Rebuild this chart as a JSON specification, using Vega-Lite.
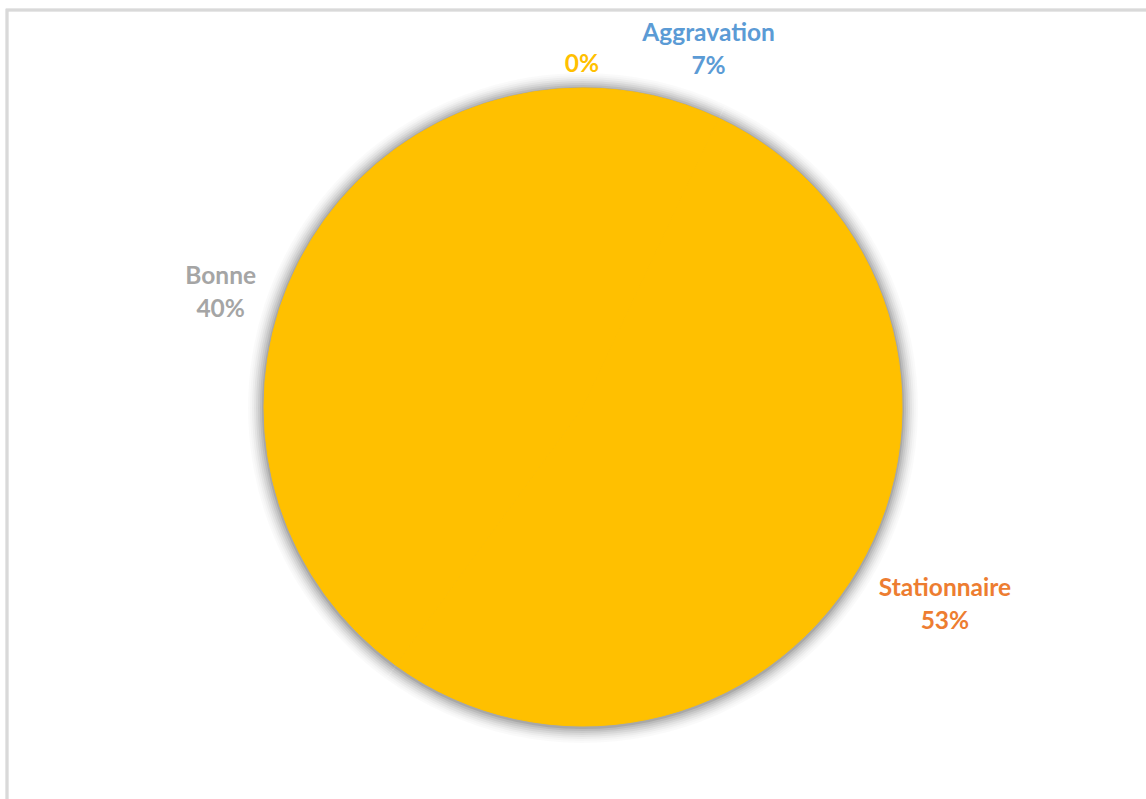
{
  "$schema": "https://vega.github.io/schema/vega-lite/v6.json",
  "width": 1139,
  "height": 789,
  "autosize": "none",
  "padding": {"left": 7, "top": 10, "right": 0, "bottom": 0},
  "background": "white",
  "config": {"view": {"stroke": null}},
  "data": {
    "values": [
      {"cat": "Aggravation", "value": 7, "ordre": 1, "label": "Aggravation\n7%"},
      {"cat": "Stationnaire", "value": 53, "ordre": 2, "label": "Stationnaire\n53%"},
      {"cat": "Bonne", "value": 40, "ordre": 3, "label": "Bonne\n40%"},
      {"cat": "", "value": 0, "ordre": 4, "label": "0%"}
    ]
  },
  "encoding": {
    "theta": {"field": "value", "type": "quantitative", "stack": true},
    "order": {"field": "ordre", "type": "quantitative"}
  },
  "layer": [
    {
      "mark": {"type": "rect", "fill": null, "stroke": "#D9D9D9", "strokeWidth": 2.5},
      "encoding": {
        "theta": null,
        "order": null,
        "x": {"value": 0},
        "y": {"value": 0},
        "x2": {"value": {"expr": "width + 20"}},
        "y2": {"value": {"expr": "height + 20"}}
      }
    },
    {"mark": {"type": "arc", "radius": 335, "color": "#000000", "opacity": 0.02, "strokeWidth": 0, "x": {"expr": "width/2 + 6.5"}, "y": {"expr": "height/2 + 3.5"}}},
    {"mark": {"type": "arc", "radius": 333, "color": "#000000", "opacity": 0.02, "strokeWidth": 0, "x": {"expr": "width/2 + 6.5"}, "y": {"expr": "height/2 + 3.5"}}},
    {"mark": {"type": "arc", "radius": 331, "color": "#000000", "opacity": 0.03, "strokeWidth": 0, "x": {"expr": "width/2 + 6.5"}, "y": {"expr": "height/2 + 3.5"}}},
    {"mark": {"type": "arc", "radius": 329, "color": "#000000", "opacity": 0.04, "strokeWidth": 0, "x": {"expr": "width/2 + 6.5"}, "y": {"expr": "height/2 + 3.5"}}},
    {"mark": {"type": "arc", "radius": 327, "color": "#000000", "opacity": 0.05, "strokeWidth": 0, "x": {"expr": "width/2 + 6.5"}, "y": {"expr": "height/2 + 3.5"}}},
    {"mark": {"type": "arc", "radius": 325, "color": "#000000", "opacity": 0.06, "strokeWidth": 0, "x": {"expr": "width/2 + 6.5"}, "y": {"expr": "height/2 + 3.5"}}},
    {"mark": {"type": "arc", "radius": 323, "color": "#000000", "opacity": 0.07, "strokeWidth": 0, "x": {"expr": "width/2 + 6.5"}, "y": {"expr": "height/2 + 3.5"}}},
    {"mark": {"type": "arc", "radius": 321, "color": "#000000", "opacity": 0.1, "strokeWidth": 0, "x": {"expr": "width/2 + 6.5"}, "y": {"expr": "height/2 + 3.5"}}},
    {"mark": {"type": "arc", "radius": 319, "color": "#FFC000", "stroke": "#FFC000", "strokeWidth": 1, "x": {"expr": "width/2 + 6.5"}, "y": {"expr": "height/2 + 2.5"}}},
    {
      "mark": {"type": "text", "radius": 360, "dx": 47, "dy": -21.5, "font": "Lato", "fontWeight": "bold", "fontSize": 24.5, "lineBreak": "\n", "lineHeight": 33, "baseline": "middle", "align": "center", "x": {"expr": "width/2 + 6.5"}, "y": {"expr": "height/2 + 2.5"}},
      "encoding": {
        "text": {"condition": {"test": "datum.cat === 'Aggravation'", "field": "label"}, "value": ""},
        "color": {"field": "cat", "type": "nominal", "legend": null, "scale": {"domain": ["Aggravation", "Stationnaire", "Bonne", ""], "range": ["#5B9BD5", "#ED7D31", "#A5A5A5", "#FFC000"]}}
      }
    },
    {
      "mark": {"type": "text", "radius": 410, "dx": 9, "dy": -26.5, "font": "Lato", "fontWeight": "bold", "fontSize": 24.5, "lineBreak": "\n", "lineHeight": 33, "baseline": "middle", "align": "center", "x": {"expr": "width/2 + 6.5"}, "y": {"expr": "height/2 + 2.5"}},
      "encoding": {
        "text": {"condition": {"test": "datum.cat === 'Stationnaire'", "field": "label"}, "value": ""},
        "color": {"field": "cat", "type": "nominal", "legend": null, "scale": {"domain": ["Aggravation", "Stationnaire", "Bonne", ""], "range": ["#5B9BD5", "#ED7D31", "#A5A5A5", "#FFC000"]}}
      }
    },
    {
      "mark": {"type": "text", "radius": 381, "dx": 0, "dy": -12.5, "font": "Lato", "fontWeight": "bold", "fontSize": 24.5, "lineBreak": "\n", "lineHeight": 33, "baseline": "middle", "align": "center", "x": {"expr": "width/2 + 6.5"}, "y": {"expr": "height/2 + 2.5"}},
      "encoding": {
        "text": {"condition": {"test": "datum.cat === 'Bonne'", "field": "label"}, "value": ""},
        "color": {"field": "cat", "type": "nominal", "legend": null, "scale": {"domain": ["Aggravation", "Stationnaire", "Bonne", ""], "range": ["#5B9BD5", "#ED7D31", "#A5A5A5", "#FFC000"]}}
      }
    },
    {
      "mark": {"type": "text", "radius": 343, "dx": -1, "dy": 1, "font": "Lato", "fontWeight": "bold", "fontSize": 24.5, "lineBreak": "\n", "lineHeight": 33, "baseline": "middle", "align": "center", "x": {"expr": "width/2 + 6.5"}, "y": {"expr": "height/2 + 2.5"}},
      "encoding": {
        "text": {"condition": {"test": "datum.cat === ''", "field": "label"}, "value": ""},
        "color": {"field": "cat", "type": "nominal", "legend": null, "scale": {"domain": ["Aggravation", "Stationnaire", "Bonne", ""], "range": ["#5B9BD5", "#ED7D31", "#A5A5A5", "#FFC000"]}}
      }
    }
  ]
}
